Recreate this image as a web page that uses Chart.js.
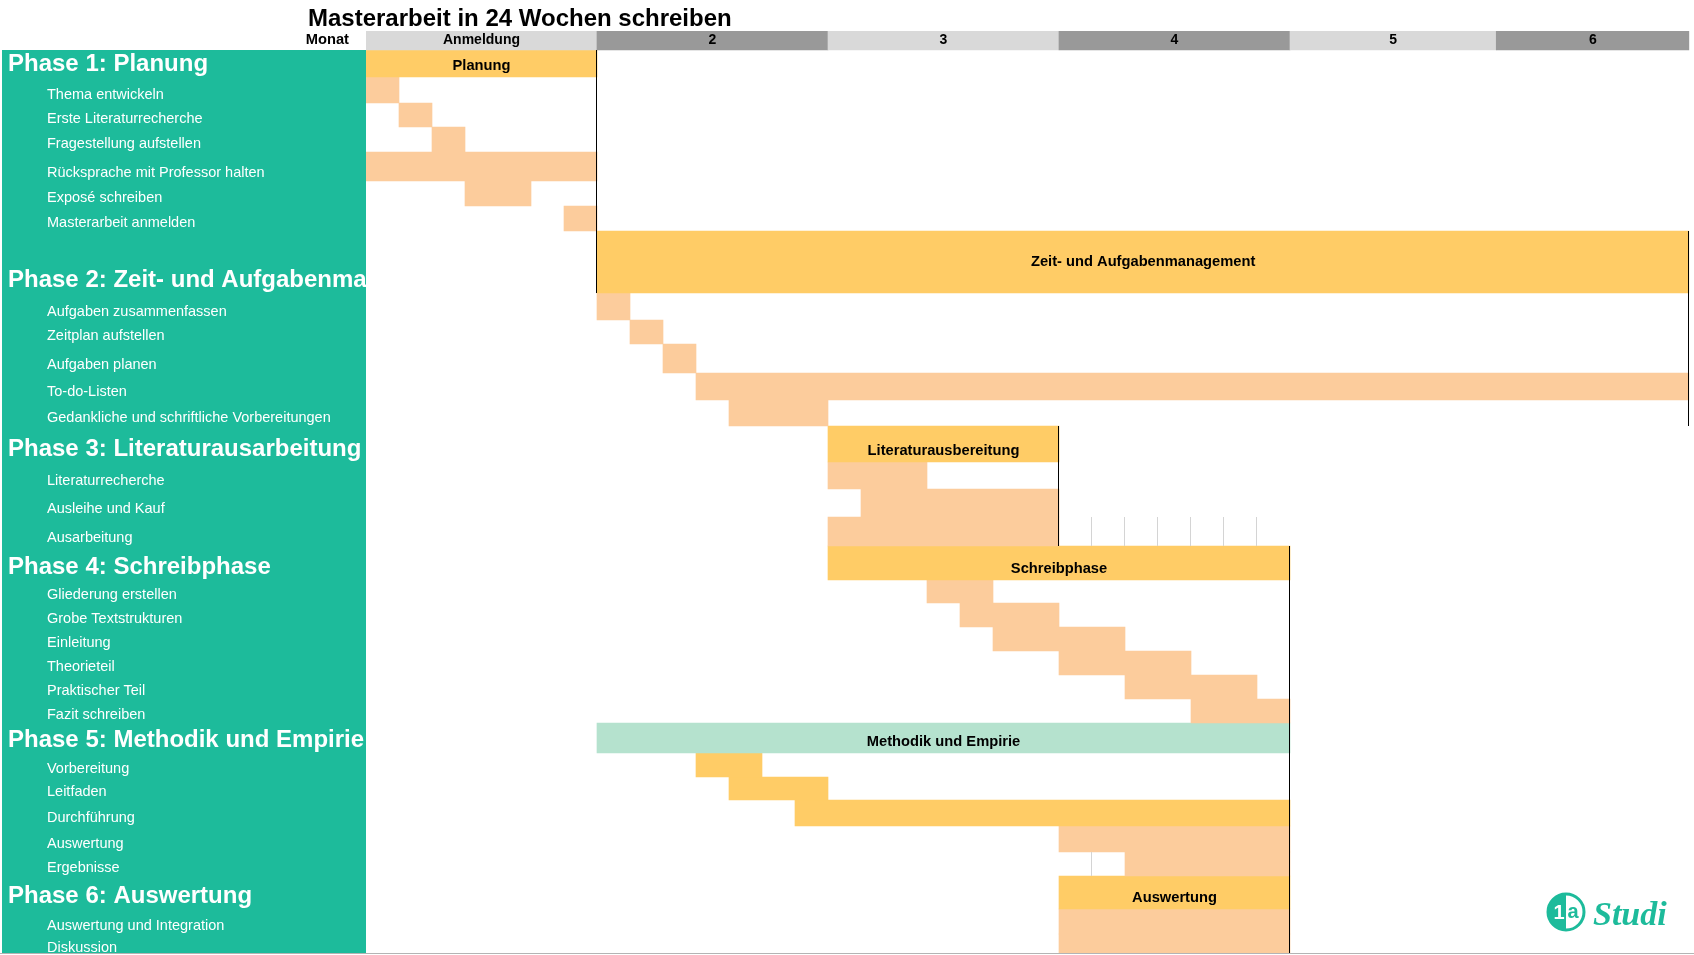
<!DOCTYPE html>
<html lang="de">
<head>
<meta charset="utf-8">
<title>Masterarbeit in 24 Wochen schreiben</title>
<script src="https://cdn.jsdelivr.net/npm/chart.js@4.4.1/dist/chart.umd.min.js"></script>
<style>
  html, body { margin: 0; padding: 0; background: #fff; }
  canvas { display: block; }
</style>
</head>
<body>
<canvas id="gantt" width="1694" height="955"></canvas>
<script>
// Kopfzeile: Monate, Grenzen in Wochen
var monate = ['Anmeldung', '2', '3', '4', '5', '6'];
var monatsGrenzen = [0, 7, 14, 21, 28, 34.25, 40.1];

// Zeilen des Plans (Phasen und Aufgaben)
var zeilen = [
    'Phase 1: Planung', 'Thema entwickeln', 'Erste Literaturrecherche', 'Fragestellung aufstellen',
    'Rücksprache mit Professor halten', 'Exposé schreiben', 'Masterarbeit anmelden',
    'Phase 2: Zeit- und Aufgabenmanagement', 'Aufgaben zusammenfassen', 'Zeitplan aufstellen',
    'Aufgaben planen', 'To-do-Listen', 'Gedankliche und schriftliche Vorbereitungen',
    'Phase 3: Literaturausarbeitung', 'Literaturrecherche', 'Ausleihe und Kauf', 'Ausarbeitung',
    'Phase 4: Schreibphase', 'Gliederung erstellen', 'Grobe Textstrukturen', 'Einleitung',
    'Theorieteil', 'Praktischer Teil', 'Fazit schreiben',
    'Phase 5: Methodik und Empirie', 'Vorbereitung', 'Leitfaden', 'Durchführung', 'Auswertung', 'Ergebnisse',
    'Phase 6: Auswertung', 'Auswertung und Integration', 'Diskussion'
];
// Beginn und Ende in Wochen
var start = [0, 0, 1, 2, 0, 3, 6,  7, 7, 8, 9, 10, 11,  14, 14, 15, 14,  14, 17, 18, 19, 21, 23, 25,  7, 10, 11, 13, 21, 23,  21, 21, 21];
var ende  = [7, 1, 2, 3, 7, 5, 7,  40.1, 8, 9, 10, 40.1, 14,  21, 17, 21, 21,  28, 19, 21, 23, 25, 27, 28,  28, 12, 14, 28, 28, 28,  28, 28, 28];

// Phasenzeilen und Beschriftung der Phasenbalken
var phasenZeilen = [0, 7, 13, 17, 24, 30];
var phasenBalken = ['Planung', 'Zeit- und Aufgabenmanagement', 'Literaturausbereitung', 'Schreibphase', 'Methodik und Empirie', 'Auswertung'];

// Layout (Pixelhöhen der Zeilen)
var zeilenHoehe = [27, 26, 24, 25, 29, 25, 25, 62, 27, 24, 29, 27, 26, 36, 27, 28, 29, 34, 23, 24, 24, 24, 24, 24, 30, 24, 23, 26, 26, 24, 33, 25, 22];
var KOPF_OBEN = 31, TABELLE_OBEN = 50, UNTEN = 953;
var LINKS = 366, WOCHE = 33;
var TEAL = '#1DBB9B', GELB = '#FFCC66', PFIRSICH = '#FCCC9C', MINT = '#B5E2CE';
var SCHRIFT = '"Liberation Sans", Arial, sans-serif';
// feine Zellrahmen (Zeile, Wochen)
var zellRahmen = [[16, 22, 27], [29, 22, 22]];

var oben = [], mitten = [];
var y0 = TABELLE_OBEN;
zeilenHoehe.forEach(function (h) {
    oben.push(y0);
    mitten.push(y0 + h / 2);
    y0 += h;
});

function farbe(i) {
    if (i === 24) return MINT;
    if (i === 25 || i === 26 || i === 27) return GELB;
    return phasenZeilen.indexOf(i) >= 0 ? GELB : PFIRSICH;
}

var datasets = [{
    label: 'Monat',
    data: monate.map(function (m, i) {
        return { x: [monatsGrenzen[i], monatsGrenzen[i + 1]], y: KOPF_OBEN + (TABELLE_OBEN - KOPF_OBEN) / 2 };
    }),
    backgroundColor: monate.map(function (m, i) { return i % 2 ? '#999999' : '#D9D9D9'; }),
    barThickness: TABELLE_OBEN - KOPF_OBEN,
    borderWidth: 0
}];
zeilen.forEach(function (name, i) {
    datasets.push({
        label: name,
        data: [{ x: [start[i], ende[i]], y: mitten[i] }],
        backgroundColor: farbe(i),
        barThickness: zeilenHoehe[i],
        borderWidth: 0
    });
});

var ganttText = {
    id: 'ganttText',
    beforeDraw: function (chart) {
        var ctx = chart.ctx;
        ctx.save();
        ctx.fillStyle = '#fff';
        ctx.fillRect(0, 0, chart.width, chart.height);
        ctx.fillStyle = TEAL;
        ctx.fillRect(2, TABELLE_OBEN, LINKS - 2, UNTEN - TABELLE_OBEN);
        ctx.fillStyle = '#000';
        ctx.font = 'bold 24px ' + SCHRIFT;
        ctx.textBaseline = 'alphabetic';
        ctx.fillText('Masterarbeit in 24 Wochen schreiben', 308, 26);
        ctx.font = 'bold 14.7px ' + SCHRIFT;
        ctx.textAlign = 'right';
        ctx.textBaseline = 'middle';
        ctx.fillText('Monat', 349, 40);
        ctx.fillStyle = '#b4b4b4';
        ctx.fillRect(0, UNTEN, chart.width, 1);
        ctx.restore();
    },
    afterDatasetsDraw: function (chart) {
        var ctx = chart.ctx;
        var xs = chart.scales.x;
        ctx.save();

        // feine Zellrahmen
        ctx.fillStyle = '#d4d4d4';
        zellRahmen.forEach(function (r) {
            for (var w = r[1]; w <= r[2]; w++) {
                ctx.fillRect(Math.round(xs.getPixelForValue(w)) - 1, oben[r[0]], 1, zeilenHoehe[r[0]]);
            }
        });

        // Monatsbeschriftung
        ctx.fillStyle = '#000';
        ctx.font = 'bold 14px ' + SCHRIFT;
        ctx.textAlign = 'center';
        ctx.textBaseline = 'middle';
        chart.getDatasetMeta(0).data.forEach(function (el, i) {
            ctx.fillText(monate[i], (el.x + el.base) / 2, el.y);
        });

        // Phasenbalken
        ctx.font = 'bold 14.7px ' + SCHRIFT;
        phasenZeilen.forEach(function (z, p) {
            var el = chart.getDatasetMeta(z + 1).data[0];
            var unten = el.y + el.height / 2;
            var ty = el.height > 40 ? el.y : unten - 11;
            ctx.fillText(phasenBalken[p], (el.x + el.base) / 2, ty);
        });

        // Rahmenlinien der Phasen
        ctx.fillStyle = '#000';
        phasenZeilen.forEach(function (z, p) {
            var letzte = p + 1 < phasenZeilen.length ? phasenZeilen[p + 1] - 1 : zeilen.length - 1;
            var x = Math.round(xs.getPixelForValue(ende[z]));
            var yTop = oben[z];
            var yBot = Math.min(oben[letzte] + zeilenHoehe[letzte], UNTEN);
            ctx.fillRect(x - 1, yTop, 1, yBot - yTop);
        });
        var x2 = Math.round(xs.getPixelForValue(start[7]));
        ctx.fillRect(x2 - 1, oben[7], 1, zeilenHoehe[7]);

        // Zeilenbeschriftung links
        ctx.beginPath();
        ctx.rect(2, TABELLE_OBEN, LINKS - 2, UNTEN - TABELLE_OBEN);
        ctx.clip();
        ctx.fillStyle = '#fff';
        ctx.textAlign = 'left';
        zeilen.forEach(function (name, i) {
            var unten = oben[i] + zeilenHoehe[i];
            if (phasenZeilen.indexOf(i) >= 0) {
                ctx.font = 'bold 24px ' + SCHRIFT;
                ctx.fillText(name, 8, unten - 13);
            } else {
                ctx.font = '14.5px ' + SCHRIFT;
                ctx.fillText(name, 47, unten - 8.5);
            }
        });
        ctx.restore();

        // Logo
        ctx.save();
        var cx = 1566, cy = 912, r = 18;
        ctx.strokeStyle = TEAL;
        ctx.fillStyle = TEAL;
        ctx.lineWidth = 3;
        ctx.beginPath();
        ctx.arc(cx, cy, r, 0, Math.PI * 2);
        ctx.stroke();
        ctx.beginPath();
        ctx.arc(cx, cy, r, Math.PI / 2, Math.PI * 1.5);
        ctx.closePath();
        ctx.fill();
        ctx.textAlign = 'center';
        ctx.textBaseline = 'middle';
        ctx.font = 'bold 20px ' + SCHRIFT;
        ctx.fillStyle = '#fff';
        ctx.fillText('1', cx - 7, cy + 1);
        ctx.fillStyle = TEAL;
        ctx.fillText('a', cx + 7, cy);
        ctx.textAlign = 'left';
        ctx.textBaseline = 'alphabetic';
        ctx.font = 'italic bold 34px "Liberation Serif", "DejaVu Serif", serif';
        ctx.fillText('Studi', 1593, 925);
        ctx.restore();
    }
};

var ctx = document.getElementById('gantt').getContext('2d');
var gantt = new Chart(ctx, {
    type: 'bar',
    data: { datasets: datasets },
    options: {
        indexAxis: 'y',
        responsive: false,
        animation: false,
        layout: {
            padding: { left: LINKS, right: 1694 - (LINKS + 40.1 * WOCHE), top: KOPF_OBEN, bottom: 955 - UNTEN }
        },
        datasets: { bar: { grouped: false } },
        scales: {
            x: { type: 'linear', min: 0, max: 40.1, display: false },
            y: { type: 'linear', min: KOPF_OBEN, max: UNTEN, reverse: true, offset: false, display: false }
        },
        plugins: {
            legend: { display: false },
            tooltip: { enabled: false }
        }
    },
    plugins: [ganttText]
});
</script>
</body>
</html>
